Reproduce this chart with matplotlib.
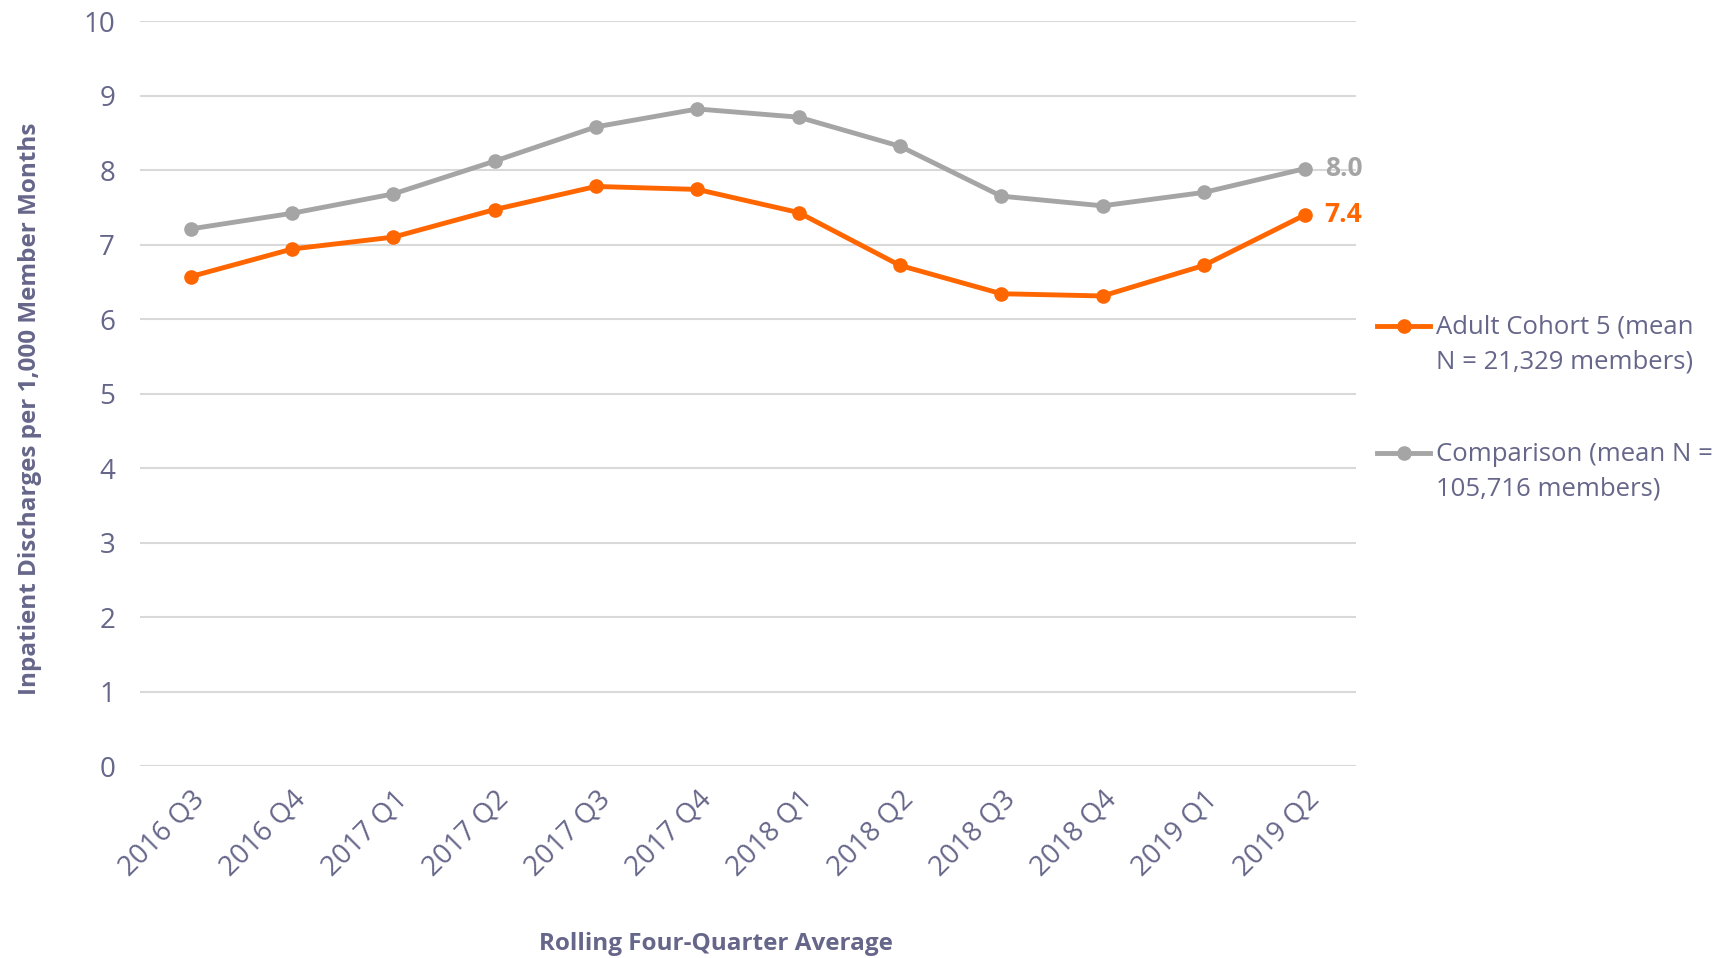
import numpy as np
import matplotlib.pyplot as plt
from matplotlib.lines import Line2D

plt.rcParams['font.family'] = ['Open Sans', 'DejaVu Sans']

quarters = ['2016 Q3', '2016 Q4', '2017 Q1', '2017 Q2', '2017 Q3', '2017 Q4',
            '2018 Q1', '2018 Q2', '2018 Q3', '2018 Q4', '2019 Q1', '2019 Q2']
cohort = [6.57, 6.94, 7.10, 7.47, 7.78, 7.74, 7.43, 6.72, 6.34, 6.31, 6.72, 7.40]
comparison = [7.21, 7.42, 7.68, 8.12, 8.58, 8.82, 8.71, 8.32, 7.65, 7.52, 7.70, 8.02]

cohort_label = 'Adult Cohort 5 (mean\nN = 21,329 members)'
comp_label = 'Comparison (mean N =\n105,716 members)'

orange = '#FF6600'
gray = '#A5A5A5'
txt = '#66668a'

fig = plt.figure(figsize=(17.25, 9.58), dpi=100)
ax = fig.add_axes([0.0812, 0.2004, 0.7048, 0.7776])

x = np.arange(len(quarters))
ax.plot(x, comparison, color=gray, lw=3.5, marker='o', ms=9.5, zorder=3)
ax.plot(x, cohort, color=orange, lw=3.5, marker='o', ms=9.5, zorder=3)

ax.annotate('{0:.1f}'.format(comparison[-1]), (x[-1], comparison[-1]),
            xytext=(14, 0), textcoords='offset points', va='center',
            color=gray, fontsize=19, fontweight='bold')
ax.annotate('{0:.1f}'.format(cohort[-1]), (x[-1], cohort[-1]),
            xytext=(14, 0), textcoords='offset points', va='center',
            color=orange, fontsize=19, fontweight='bold')

ax.set_xlim(-0.5, len(quarters) - 0.5)
ax.set_ylim(0, 10)
ax.set_yticks(range(0, 11))
ax.set_xticks(x)
ax.set_xticklabels(quarters, rotation=45, ha='right', rotation_mode='anchor')
ax.tick_params(axis='both', length=0, labelsize=20, labelcolor=txt)
ax.tick_params(axis='y', pad=18)
ax.tick_params(axis='x', pad=14)
ax.grid(axis='y', color='#d9d9d9', lw=1.5)
ax.set_axisbelow(True)
for s in ax.spines.values():
    s.set_visible(False)

ax.set_ylabel('Inpatient Discharges per 1,000 Member Months', fontsize=17.5,
              fontweight='bold', color=txt)
ax.yaxis.set_label_coords(-0.081, 0.479)
fig.text(0.415, 0.002, 'Rolling Four-Quarter Average', fontsize=17.5,
         fontweight='bold', color=txt, ha='center', va='bottom')

# legend drawn by hand so the marker sits on the first text line
for yl, col, lab in [(0.660, orange, cohort_label), (0.527, gray, comp_label)]:
    fig.add_artist(Line2D([0.7985, 0.829], [yl, yl], color=col, lw=3.5,
                          transform=fig.transFigure))
    fig.add_artist(Line2D([0.8138], [yl], color=col, marker='o', ms=9.5,
                          transform=fig.transFigure))
    fig.text(0.8325, yl + 0.0115, lab, fontsize=18.5, color=txt, va='top',
             ha='left', linespacing=1.5)

plt.savefig('out.png', dpi=100)
